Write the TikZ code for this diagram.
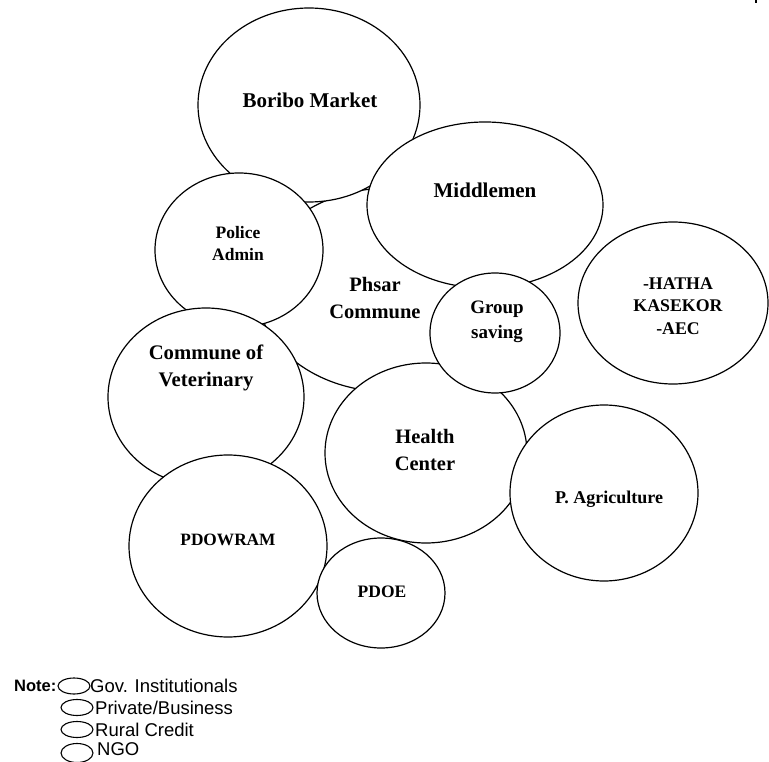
\documentclass[tikz,border=0pt]{standalone}
\usepackage{fontspec}
\setmainfont{Liberation Serif}
\newfontfamily\legendfont{Liberation Sans}
\usetikzlibrary{shapes.geometric}
\begin{document}
\begin{tikzpicture}[x=1pt,y=-1pt,
  bubble/.style={ellipse, draw=black, fill=white, line width=1.2pt, inner sep=0pt, outer sep=0pt},
  lbl/.style={align=center, inner sep=0pt},
  key/.style={ellipse, draw=black, line width=1.1pt, inner sep=0pt, minimum width=32pt, minimum height=16pt},
  keytext/.style={font=\legendfont\fontsize{18.5}{18.5}\selectfont, anchor=west, inner sep=0pt}
]
\useasboundingbox (0,0) rectangle (769,762);

% stakeholder bubbles, back to front
\node[bubble, minimum width=266pt, minimum height=204pt] (phsar)   at (390,290) {};
\node[bubble, minimum width=222pt, minimum height=194pt] (boribo)  at (309,105) {};
\node[bubble, minimum width=236pt, minimum height=166pt] (middle)  at (485,205) {};
\node[bubble, minimum width=168pt, minimum height=154pt] (police)  at (239,250) {};
\node[bubble, minimum width=196pt, minimum height=178pt] (vet)     at (206,397) {};
\node[bubble, minimum width=202pt, minimum height=180pt] (health)  at (426,453) {};
\node[bubble, minimum width=130pt, minimum height=120pt] (group)   at (495,333) {};
\node[bubble, minimum width=190pt, minimum height=162pt] (hatha)   at (673,303) {};
\node[bubble, minimum width=188pt, minimum height=176pt] (agri)    at (604,493) {};
\node[bubble, minimum width=198pt, minimum height=182pt] (pdowram) at (228,546) {};
\node[bubble, minimum width=128pt, minimum height=110pt] (pdoe)    at (381,593) {};

% bubble captions
\node[lbl, font=\bfseries\fontsize{21}{26}\selectfont]   (tboribo)  at (310,100)   {Boribo Market};
\node[lbl, font=\bfseries\fontsize{21}{26}\selectfont]   (tmiddle)  at (485,190)   {Middlemen};
\node[lbl, font=\bfseries\fontsize{17.5}{22}\selectfont] (tpolice)  at (238,244)   {Police\\Admin};
\node[lbl, font=\bfseries\fontsize{20.5}{27}\selectfont] (tphsar)   at (375,298.5) {Phsar\\Commune};
\node[lbl, font=\bfseries\fontsize{19}{25}\selectfont]   (tgroup)   at (497,322)   {Group\\saving};
\node[lbl, font=\bfseries\fontsize{17.8}{22.5}\selectfont] (thatha) at (678,306)   {-HATHA\\KASEKOR\\-AEC};
\node[lbl, font=\bfseries\fontsize{20.7}{27}\selectfont] (tvet)     at (206,368)   {Commune of\\Veterinary};
\node[lbl, font=\bfseries\fontsize{20.5}{27}\selectfont] (thealth)  at (425,449.5) {Health\\Center};
\node[lbl, font=\bfseries\fontsize{18}{22}\selectfont]   (tagri)    at (609,499)   {P. Agriculture};
\node[lbl, font=\bfseries\fontsize{17.3}{22}\selectfont] (tpdowram) at (228,540)   {PDOWRAM};
\node[lbl, font=\bfseries\fontsize{17.5}{22}\selectfont] (tpdoe)    at (382,592)   {PDOE};

% legend
\node[anchor=west, inner sep=0pt, font=\legendfont\bfseries\fontsize{16.5}{17}\selectfont] (note) at (14,686) {Note:};
\node[key] (kgov)  at (74,686)   {};
\node[key] (kpriv) at (77,707.5) {};
\node[key] (krur)  at (77,729.5) {};
\node[key, minimum height=19pt] (kngo) at (77,753) {};
\node[keytext] (tgov)  at (90,686)   {Gov. Institutionals};
\node[keytext] (tpriv) at (95,707.5) {Private/Business};
\node[keytext] (trur)  at (95,729.5) {Rural Credit};
\node[keytext] (tngo)  at (97,749)   {NGO};

% stray mark in the upper right corner
\fill (755,0) rectangle (757,3);
\end{tikzpicture}
\end{document}
